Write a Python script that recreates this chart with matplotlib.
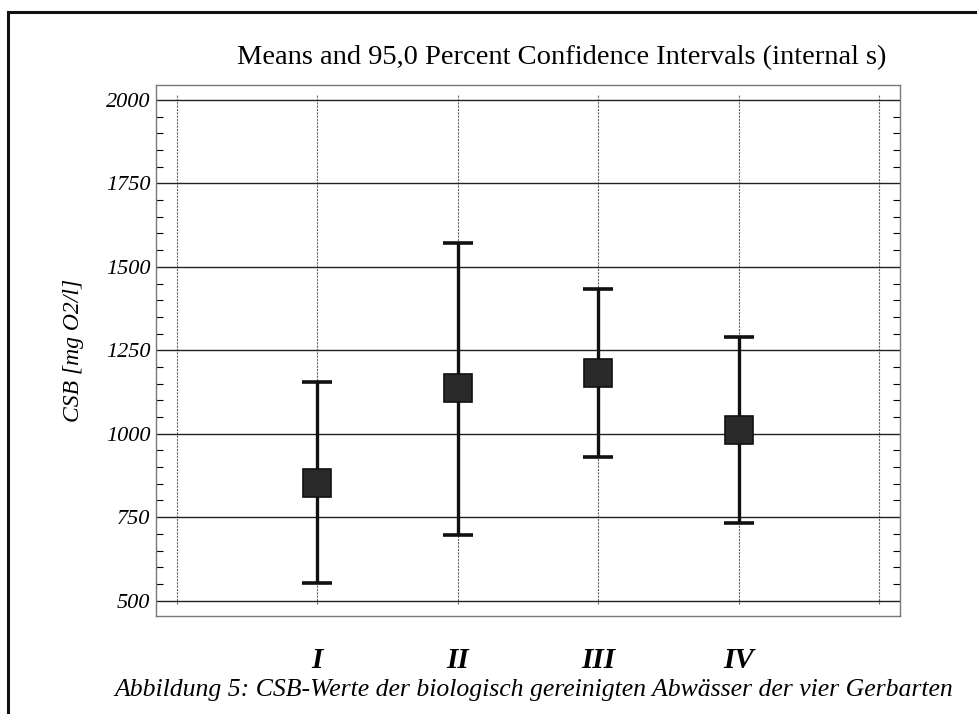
import numpy as np
import matplotlib
matplotlib.use("Agg")
import matplotlib.pyplot as plt
from matplotlib.lines import Line2D
from matplotlib.ticker import MultipleLocator

# values
groups = ["I", "II", "III", "IV"]
means = [853, 1137, 1183, 1012]
upper = [1154, 1571, 1433, 1290]
lower = [552, 696, 929, 732]

TITLE = "Means and 95,0 Percent Confidence Intervals (internal s)"
YLABEL = "CSB [mg O2/l]"
CAPTION = "Abbildung 5: CSB-Werte der biologisch gereinigten Abwässer der vier Gerbarten"

plt.rcParams["font.family"] = ["Liberation Serif", "DejaVu Serif"]

fig = plt.figure(figsize=(9.77, 7.14), dpi=100)
ax = fig.add_axes([0.1597, 0.1373, 0.9212 - 0.1597, 0.881 - 0.1373])

x = np.arange(1, len(groups) + 1)
m = np.array(means)
err = np.vstack([m - np.array(lower), np.array(upper) - m])

# grid first so bars sit on top
ax.set_yticks([500, 750, 1000, 1250, 1500, 1750, 2000])
ax.yaxis.set_minor_locator(MultipleLocator(50))
ax.grid(axis="y", which="major", color="#222222", lw=1.0)
ax.vlines(np.arange(0, 6), 490, 2015, colors="#666666", lw=0.8,
          linestyles=(0, (2, 1)), zorder=1)

ax.errorbar(x, m, yerr=err, fmt="none", ecolor="#111111", elinewidth=2.4,
            capsize=11, capthick=2.6, zorder=3)
ax.plot(x, m, "s", ms=19.5, mfc="#2a2a2a", mec="#111111", mew=1.2, zorder=4)

ax.set_xlim(-0.15, 5.15)
ax.set_ylim(454, 2045)
ax.set_xticks(x)
ax.set_xticklabels(groups, fontsize=21, fontweight="bold", style="italic")
ax.tick_params(axis="x", length=0, pad=22)
ax.tick_params(axis="y", which="major", length=0, pad=4, labelsize=16)
ax.tick_params(axis="y", which="minor", direction="in", length=5,
               left=True, right=True, width=0.8)
for lab in ax.get_yticklabels():
    lab.set_style("italic")
for sp in ax.spines.values():
    sp.set_color("#777777")
    sp.set_linewidth(1.0)

ax.set_ylabel(YLABEL, fontsize=17, style="italic", labelpad=16)

# title sits off-centre in the scan, so place it in figure coords
fig.text(562 / 977, 1 - 58 / 714, TITLE, fontsize=20.5, ha="center", va="center")
fig.text(534 / 977, 1 - 690 / 714, CAPTION, fontsize=18.5, style="italic",
         ha="center", va="center")

# scanned page frame (top and left edges)
fig.add_artist(Line2D([8 / 977, 1.0], [1 - 12 / 714, 1 - 12 / 714],
                      transform=fig.transFigure, color="#111111", lw=2.2))
fig.add_artist(Line2D([8 / 977, 8 / 977], [0.0, 1 - 12 / 714],
                      transform=fig.transFigure, color="#111111", lw=2.2))

fig.savefig("out.png", dpi=100)
